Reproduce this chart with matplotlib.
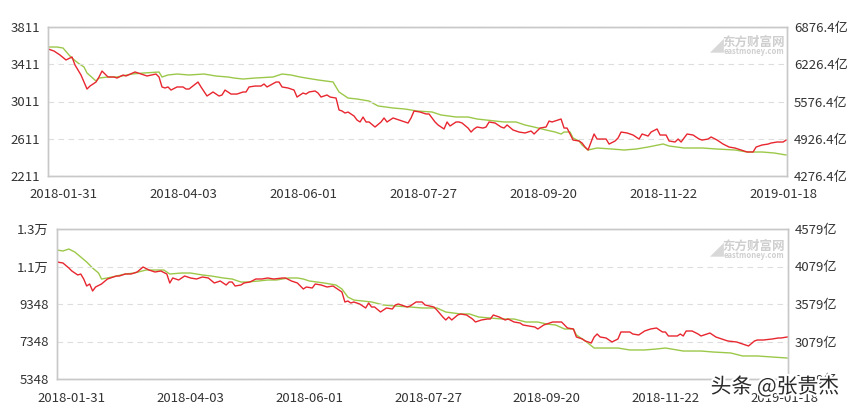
import matplotlib.pyplot as plt
import matplotlib.patheffects as pe

plt.rcParams['font.family'] = ['Noto Sans CJK SC', 'DejaVu Sans']

# 交易日序号 (x 轴) 与刻度
tick_days = [5, 45, 85, 125, 165, 205, 245]
tick_dates = ["2018-01-31", "2018-04-03", "2018-06-01", "2018-07-27",
              "2018-09-20", "2018-11-22", "2019-01-18"]

# 上图: 上证指数 (左轴) 与 沪市融资融券余额 (右轴, 亿)
sh_idx_days = [0, 2, 4, 6, 8, 9, 11, 13, 14, 16, 17, 18, 20, 22, 23, 25, 26, 29, 31, 33,
               36, 37, 38, 39, 40, 41, 43, 45, 46, 47, 50, 51, 53, 55, 57, 58, 59, 61, 63, 65,
               66, 67, 69, 71, 72, 73, 76, 77, 78, 80, 82, 83, 85, 86, 87, 89, 90, 91, 93, 94,
               96, 97, 98, 99, 100, 102, 103, 104, 105, 106, 107, 109, 111, 112, 113, 115, 116, 118, 120, 121,
               122, 124, 126, 127, 129, 130, 132, 133, 134, 136, 137, 138, 140, 141, 142, 143, 145, 146, 147, 149,
               151, 152, 153, 155, 156, 157, 159, 161, 162, 164, 166, 167, 168, 170, 171, 172, 173, 175, 177, 178,
               179, 180, 181, 182, 183, 186, 187, 189, 190, 191, 193, 195, 197, 198, 200, 201, 203, 204, 206, 207,
               209, 210, 211, 213, 215, 217, 218, 220, 221, 223, 225, 227, 229, 231, 233, 235, 236, 238, 240, 241,
               243, 245, 246]
sh_idx = [3575, 3553, 3510, 3457, 3489, 3403, 3295, 3145, 3177, 3220, 3274, 3338, 3274, 3274, 3263, 3295, 3285, 3328, 3306, 3285,
          3306, 3274, 3167, 3156, 3167, 3134, 3167, 3167, 3145, 3145, 3220, 3167, 3070, 3113, 3070, 3081, 3134, 3091, 3091, 3113,
          3113, 3167, 3177, 3177, 3199, 3167, 3220, 3220, 3167, 3156, 3134, 3059, 3102, 3091, 3113, 3124, 3102, 3059, 3081, 3059,
          3048, 2920, 2909, 2887, 2898, 2855, 2812, 2791, 2844, 2791, 2791, 2737, 2791, 2834, 2791, 2834, 2823, 2801, 2780, 2834,
          2909, 2898, 2877, 2877, 2791, 2759, 2716, 2791, 2748, 2791, 2791, 2780, 2726, 2683, 2716, 2737, 2726, 2737, 2791, 2780,
          2737, 2726, 2759, 2705, 2694, 2683, 2673, 2694, 2662, 2726, 2737, 2801, 2791, 2812, 2823, 2726, 2726, 2597, 2587, 2565,
          2522, 2490, 2576, 2662, 2608, 2608, 2554, 2587, 2619, 2683, 2673, 2651, 2608, 2662, 2640, 2683, 2716, 2651, 2651, 2587,
          2576, 2608, 2576, 2662, 2651, 2608, 2597, 2608, 2630, 2597, 2554, 2522, 2511, 2490, 2469, 2469, 2522, 2544, 2554, 2565,
          2576, 2576, 2597]

sh_bal_days = [0, 3, 5, 7, 8, 10, 12, 13, 16, 17, 20, 23, 28, 32, 37, 38, 40, 43, 47, 52,
               56, 60, 62, 65, 69, 75, 78, 81, 84, 86, 90, 95, 96, 97, 100, 103, 107, 110, 115, 119,
               123, 128, 131, 136, 140, 143, 149, 152, 156, 159, 162, 166, 169, 171, 172, 174, 175, 177, 178, 180,
               183, 188, 192, 196, 200, 205, 207, 212, 218, 223, 229, 233, 238, 242, 246]
sh_bal = [6527, 6527, 6510, 6388, 6335, 6248, 6178, 6074, 5934, 5986, 6004, 6004, 6056, 6074, 6091, 6004, 6039, 6056, 6039, 6056,
          6021, 6004, 5986, 5969, 5986, 6004, 6056, 6039, 6004, 5986, 5952, 5917, 5829, 5742, 5637, 5620, 5585, 5498, 5463, 5445,
          5411, 5393, 5341, 5306, 5306, 5271, 5236, 5219, 5219, 5166, 5131, 5079, 5044, 5009, 5044, 5044, 4939, 4887, 4817, 4730,
          4765, 4747, 4730, 4747, 4782, 4835, 4800, 4765, 4765, 4747, 4730, 4695, 4695, 4678, 4643]

# 下图: 深证成指 (左轴) 与 深市融资融券余额 (右轴, 亿)
sz_idx_days = [0, 2, 4, 5, 7, 8, 9, 10, 11, 12, 13, 15, 17, 18, 20, 21, 23, 25, 26, 27,
               29, 31, 33, 35, 37, 38, 39, 41, 43, 45, 47, 49, 51, 53, 55, 57, 58, 59, 60, 62,
               63, 65, 67, 69, 71, 73, 76, 77, 79, 81, 83, 84, 86, 87, 89, 91, 93, 94, 96, 97,
               98, 99, 100, 102, 104, 105, 106, 107, 109, 111, 113, 114, 115, 118, 119, 121, 123, 124, 127, 128,
               130, 131, 132, 133, 135, 136, 138, 140, 141, 143, 145, 146, 147, 149, 151, 152, 154, 156, 157, 159,
               161, 162, 164, 165, 167, 169, 170, 172, 174, 175, 177, 178, 180, 181, 182, 183, 185, 187, 189, 190,
               193, 194, 196, 198, 200, 202, 204, 205, 206, 209, 210, 211, 212, 214, 216, 217, 219, 220, 222, 224,
               226, 229, 231, 233, 235, 236, 238, 241, 243, 244, 246]
sz_idx = [11588, 11535, 11268, 11108, 10895, 10948, 10681, 10308, 10415, 10041, 10255, 10415, 10681, 10735, 10841, 10841, 10948, 10948, 11001, 11055,
          11321, 11161, 11055, 11108, 10948, 10468, 10735, 10628, 10841, 10735, 10681, 10788, 10735, 10468, 10575, 10361, 10521, 10521, 10308, 10361,
          10468, 10521, 10681, 10681, 10735, 10681, 10735, 10735, 10575, 10468, 10148, 10255, 10201, 10415, 10361, 10255, 10308, 10201, 9988, 9455,
          9508, 9401, 9455, 9348, 9135, 9401, 9188, 9188, 8922, 9135, 9081, 9295, 9348, 9188, 9241, 9455, 9455, 9295, 9188, 9028,
          8655, 8495, 8655, 8495, 8761, 8815, 8761, 8548, 8388, 8495, 8548, 8548, 8761, 8655, 8495, 8548, 8388, 8335, 8228, 8175,
          8121, 8015, 8228, 8281, 8388, 8388, 8388, 8068, 8015, 7588, 7482, 7375, 7268, 7588, 7748, 7588, 7535, 7322, 7482, 7855,
          7855, 7748, 7695, 7908, 8015, 8068, 7855, 7855, 7642, 7642, 7748, 7642, 7908, 7908, 7748, 7642, 7748, 7801, 7588, 7482,
          7375, 7322, 7215, 7108, 7375, 7428, 7428, 7482, 7535, 7535, 7588]

sz_bal_days = [0, 2, 4, 6, 8, 10, 12, 14, 15, 17, 20, 23, 26, 30, 33, 36, 38, 42, 45, 49,
               52, 56, 59, 62, 64, 68, 71, 74, 78, 81, 83, 85, 90, 94, 96, 98, 100, 103, 106, 110,
               114, 119, 123, 128, 131, 136, 139, 142, 146, 150, 154, 158, 162, 165, 168, 171, 174, 175, 178, 181,
               184, 189, 193, 198, 202, 205, 207, 211, 217, 221, 227, 231, 236, 241, 246]
sz_bal = [4299, 4286, 4312, 4272, 4206, 4139, 4059, 3992, 3912, 3926, 3952, 3979, 3992, 4032, 4032, 4032, 3979, 3992, 3992, 3966,
          3952, 3926, 3912, 3872, 3872, 3886, 3899, 3899, 3926, 3926, 3912, 3886, 3859, 3832, 3779, 3672, 3632, 3619, 3606, 3566,
          3552, 3539, 3526, 3526, 3472, 3446, 3446, 3406, 3392, 3379, 3379, 3339, 3339, 3312, 3299, 3246, 3246, 3166, 3086, 2992,
          2992, 2992, 2966, 2966, 2979, 2992, 2979, 2952, 2952, 2939, 2926, 2886, 2886, 2872, 2859]

top_left_ticks = [2211, 2611, 3011, 3411, 3811]
top_right_ticks = [4276.4, 4926.4, 5576.4, 6226.4, 6876.4]
bot_left_ticks = [5348, 7348, 9348, 11348, 13348]
bot_left_labels = ["5348", "7348", "9348", "1.1万", "1.3万"]
bot_right_ticks = [2579, 3079, 3579, 4079, 4579]

RED = "#e8262f"
GREEN = "#9cc84a"
EDGE = "#c8c8c8"
TXT = "#333333"


def panel(rect, xs1, ys1, xs2, ys2, lticks, llabels, rticks, rlabels):
    ax = fig.add_axes(rect)
    ax2 = ax.twinx()
    ax.plot(xs1, ys1, color=RED, lw=1.0)
    ax2.plot(xs2, ys2, color=GREEN, lw=1.0)
    ax.set_zorder(ax2.get_zorder() + 1)
    ax.patch.set_visible(False)

    ax.set_xlim(0, 246.3)
    ax.set_ylim(lticks[0], lticks[-1])
    ax2.set_ylim(rticks[0], rticks[-1])
    ax.set_yticks(lticks)
    ax.set_yticklabels(llabels)
    ax2.set_yticks(rticks)
    ax2.set_yticklabels(rlabels)
    ax.set_xticks(tick_days)
    ax.set_xticklabels(tick_dates)

    ax.grid(axis="y", color="#dddddd", ls=(0, (5, 4)), lw=0.8)
    for a in (ax, ax2):
        a.tick_params(length=0, labelsize=9.5, colors=TXT)
        for s in a.spines.values():
            s.set_color(EDGE)
            s.set_linewidth(1.0)
    ax.tick_params(axis="x", pad=9)
    ax.tick_params(axis="y", pad=6)
    ax2.tick_params(axis="y", pad=5)
    return ax


fig = plt.figure(figsize=(8.55, 4.12), dpi=100)

panel([48 / 855, 236 / 412, 739 / 855, 149 / 412],
      sh_idx_days, sh_idx, sh_bal_days, sh_bal,
      top_left_ticks, [str(v) for v in top_left_ticks],
      top_right_ticks, [f"{v:.1f}亿" for v in top_right_ticks])

panel([57 / 855, 33 / 412, 731 / 855, 150 / 412],
      sz_idx_days, sz_idx, sz_bal_days, sz_bal,
      bot_left_ticks, bot_left_labels,
      bot_right_ticks, [f"{v}亿" for v in bot_right_ticks])

# 东方财富网水印
for yy in (370, 166):
    fig.text(722 / 855, yy / 412, "东方财富网", fontsize=9, color="#cfcfcf",
             fontweight="bold", ha="left", va="center")
    fig.text(724 / 855, (yy - 10) / 412, "eastmoney.com", fontsize=5.5, color="#cfcfcf",
             fontweight="bold", ha="left", va="center")
    fig.text(710 / 855, (yy - 4) / 412, "◢", fontsize=10, color="#d8d8d8",
             ha="left", va="center")

fig.text(775 / 855, 25 / 412, "头条 @张贵杰", fontsize=15, color="#2a2a2a",
         ha="center", va="center",
         path_effects=[pe.withStroke(linewidth=3, foreground="white")])

fig.savefig("out.png", dpi=100)
